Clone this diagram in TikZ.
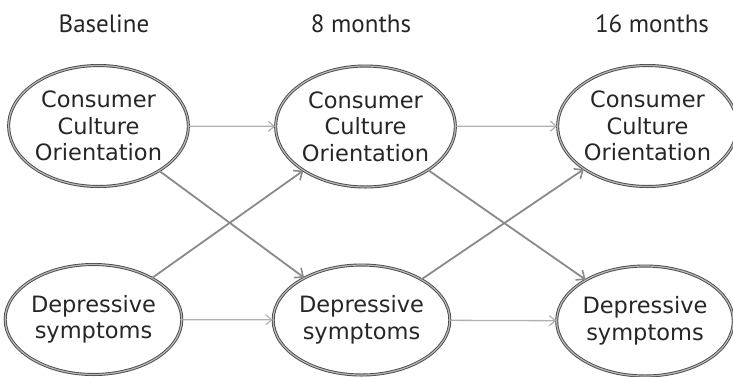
\documentclass[tikz,border=0pt]{standalone}
\usepackage{fontspec}
\setmainfont{DejaVu Sans}
\newfontfamily\labelfont{PT Sans}
\usetikzlibrary{arrows.meta,shapes.geometric}
\definecolor{ringdark}{HTML}{4A4A4A}
\definecolor{ringlight}{HTML}{B8B8B8}
\definecolor{hline}{HTML}{B0B0B0}
\definecolor{dline}{HTML}{8A8A8A}
\tikzset{
  topell/.style={ellipse, draw=ringdark, double=ringlight, double distance=1.2pt, line width=0.9pt,
    minimum width=172pt, minimum height=121pt, inner sep=0pt, align=center,
    font=\fontsize{22.5}{26.5}\selectfont, text=black!85},
  botell/.style={topell, minimum width=164pt, minimum height=110pt},
  timelabel/.style={font=\labelfont\fontsize{25}{28}\selectfont, text=black!85},
  harrow/.style={draw=hline, line width=1.3pt, -{Straight Barb[length=6pt,width=10pt,line width=1.2pt]}},
  darrow/.style={draw=dline, line width=1.8pt, -{Straight Barb[length=7pt,width=12pt,line width=1.6pt]}}
}
\begin{document}
\begin{tikzpicture}[x=1pt,y=-1pt]
\useasboundingbox (0,0) rectangle (733,376);
\node[timelabel] (lb) at (104,24) {Baseline};
\node[timelabel] (l8) at (361,24) {8 months};
\node[timelabel] (l16) at (652,24) {16 months};

\node[topell] (c0) at (98.5,126) {Consumer\\Culture\\Orientation};
\node[topell] (c1) at (365.5,126.5) {Consumer\\Culture\\Orientation};
\node[topell, minimum width=169pt] (c2) at (647.5,126) {Consumer\\Culture\\Orientation};

\node[botell] (d0) at (93.5,319.5) {Depressive\\symptoms};
\node[botell] (d1) at (361.5,320) {Depressive\\symptoms};
\node[botell] (d2) at (645,321) {Depressive\\symptoms};

\draw[harrow] (c0) -- (c1);
\draw[harrow] (c1) -- (c2);
\draw[harrow] (d0) -- (d1);
\draw[harrow] (d1) -- (d2);
\draw[darrow] (c0) -- (d1);
\draw[darrow] (d0) -- (c1);
\draw[darrow] (c1) -- (d2);
\draw[darrow] (d1) -- (c2);
\end{tikzpicture}
\end{document}
